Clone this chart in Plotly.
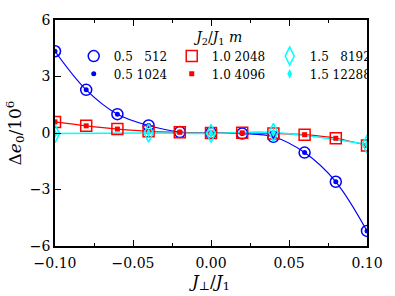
import plotly.graph_objects as go

# ---- data ----
x_vals = [-0.10, -0.08, -0.06, -0.04, -0.02, 0.00, 0.02, 0.04, 0.06, 0.08, 0.10]
blue_512 = [4.34, 2.29, 1.00, 0.40, 0.05, 0.00, -0.03, -0.20, -1.04, -2.59, -5.20]
blue_1024 = [4.34, 2.29, 1.00, 0.40, 0.05, 0.00, -0.03, -0.20, -1.04, -2.59, -5.20]
red_2048 = [0.59, 0.38, 0.21, 0.09, 0.04, 0.00, 0.01, -0.02, -0.09, -0.28, -0.66]
red_4096 = [0.59, 0.38, 0.21, 0.09, 0.04, 0.00, 0.01, -0.02, -0.09, -0.28, -0.66]
x_cyan = [-0.10, -0.04, 0.00, 0.04, 0.10]
cyan_8192 = [-0.03, 0.00, -0.02, 0.03, -0.60]
cyan_12288 = [-0.03, 0.00, -0.02, 0.03, -0.60]

j2_labels = ["0.5", "0.5", "1.0", "1.0", "1.5", "1.5"]
m_labels = ["512", "1024", "2048", "4096", "8192", "12288"]
m_pad = [4, 4, 4, 4, 5, 5]

x_ticks = [-0.10, -0.05, 0.00, 0.05, 0.10]
x_ticktext = ["\u22120.10", "\u22120.05", "0.00", "0.05", "0.10"]
y_ticks = [-6, -3, 0, 3, 6]
y_ticktext = ["\u22126", "\u22123", "0", "3", "6"]

BLUE = "#0000ff"
RED = "#ff0000"
CYAN = "#00ffff"
FONT = "DejaVu Serif"


def name(i):
    pad = "\u2007" * (m_pad[i] - len(m_labels[i]))
    return f"{j2_labels[i]} {pad}{m_labels[i]}"


fig = go.Figure()

# fit curves
fig.add_trace(go.Scatter(x=x_vals, y=blue_1024, mode="lines", line=dict(color=BLUE, width=1.2, shape="spline"),
                         showlegend=False, hoverinfo="skip"))
fig.add_trace(go.Scatter(x=x_vals, y=red_4096, mode="lines", line=dict(color=RED, width=1.2, shape="spline"),
                         showlegend=False, hoverinfo="skip"))
fig.add_trace(go.Scatter(x=x_cyan, y=cyan_12288, mode="lines", line=dict(color=CYAN, width=1.6, shape="spline"),
                         showlegend=False, hoverinfo="skip"))

series = [
    (x_vals, blue_512, "circle-open", BLUE, 11, 1.5, "legend"),
    (x_vals, blue_1024, "circle", BLUE, 5, 0, "legend2"),
    (x_vals, red_2048, "square-open", RED, 11, 1.5, "legend"),
    (x_vals, red_4096, "square", RED, 5, 0, "legend2"),
    (x_cyan, cyan_8192, "diamond-tall-open", CYAN, 13, 1.5, "legend"),
    (x_cyan, cyan_12288, "diamond-tall", CYAN, 7, 0, "legend2"),
]
for k, (xs, ys, sym, col, size, lw, lg) in enumerate(series):
    fig.add_trace(go.Scatter(
        x=xs, y=ys, mode="markers", name=name(k), legend=lg,
        marker=dict(symbol=sym, color=col, size=size, line=dict(color=col, width=lw)),
    ))

legend_common = dict(
    orientation="h", x=0.06, xanchor="left", yanchor="top",
    bgcolor="rgba(0,0,0,0)", font=dict(size=12, family=FONT),
    entrywidth=53, entrywidthmode="pixels",
)

fig.update_layout(
    width=395, height=296,
    margin=dict(l=55, r=20, t=19, b=47),
    plot_bgcolor="white", paper_bgcolor="white",
    font=dict(family=FONT, size=14, color="black"),
    showlegend=True,
    legend=dict(
        **legend_common, y=0.985,
        title=dict(text="<i>J</i><sub>2</sub>/<i>J</i><sub>1</sub> <i>m</i>", side="top center",
                   font=dict(size=14, family=FONT)),
    ),
    legend2=dict(**legend_common, y=0.826),
    xaxis=dict(
        range=[-0.10, 0.10], tickvals=x_ticks, ticktext=x_ticktext,
        ticks="inside", ticklen=6, tickwidth=1.2, tickcolor="black", ticklabelstandoff=3,
        minor=dict(tickvals=[-0.075, -0.025, 0.025, 0.075], ticks="inside", ticklen=3, tickcolor="black", tickwidth=1.2),
        showline=True, linecolor="black", linewidth=1.5, mirror="ticks",
        showgrid=False, zeroline=False, tickfont=dict(size=14, family=FONT),
        title=dict(text="<i>J</i><sub>\u22a5</sub>/<i>J</i><sub>1</sub>", font=dict(size=17, family=FONT), standoff=2),
    ),
    yaxis=dict(
        range=[-6, 6], tickvals=y_ticks, ticktext=y_ticktext,
        ticks="inside", ticklen=6, tickwidth=1.2, tickcolor="black",
        showline=True, linecolor="black", linewidth=1.5, mirror=True,
        showgrid=False, zeroline=False, tickfont=dict(size=14, family=FONT),
        title=dict(text="\u0394<i>e</i><sub>0</sub>/10<sup>6</sup>", font=dict(size=17, family=FONT), standoff=4),
    ),
)

fig.write_html("out.html", config={"displayModeBar": False},
               post_script="document.body.style.margin='0px';")
